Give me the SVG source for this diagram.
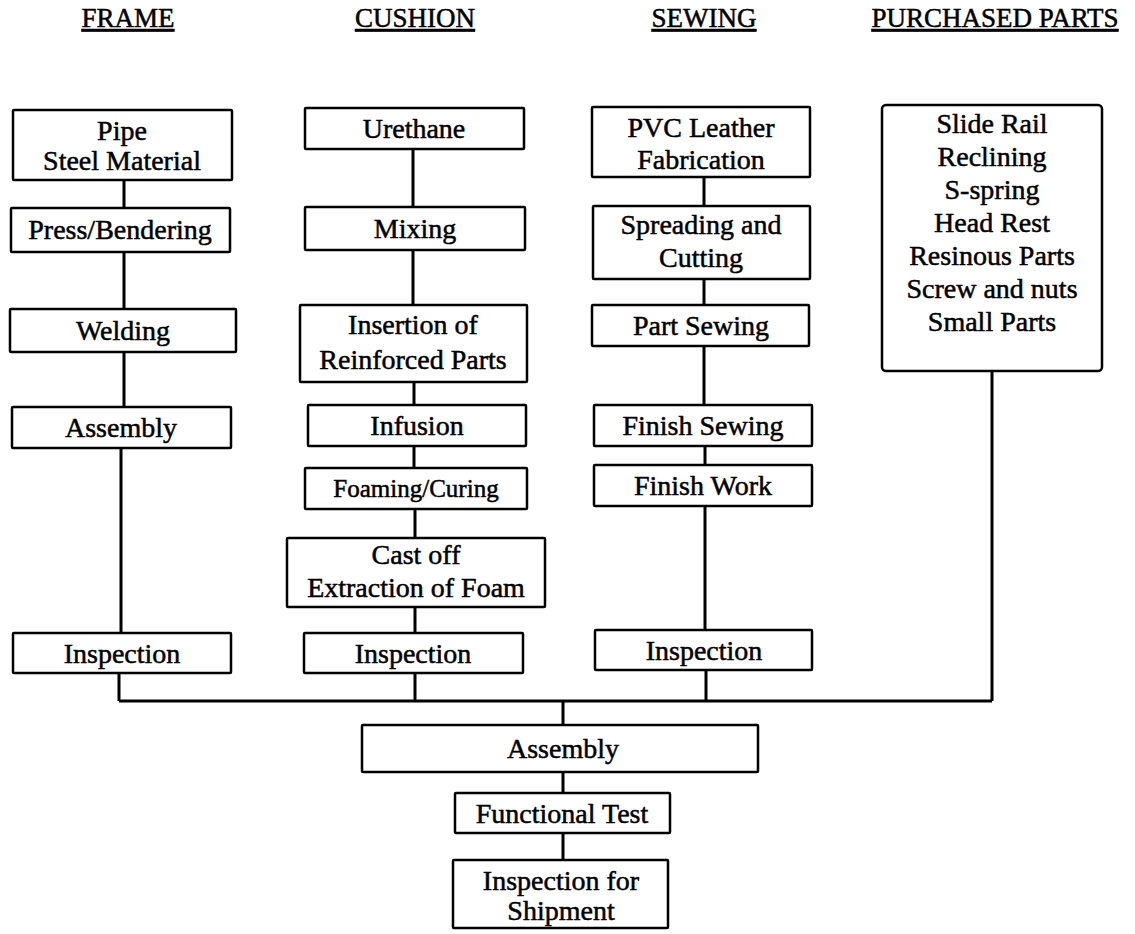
<svg xmlns="http://www.w3.org/2000/svg" width="1135" height="934" viewBox="0 0 1135 934">
<style>
text{font-family:"Liberation Serif","Times New Roman",serif;fill:#000;stroke:#000;stroke-width:0.5;text-anchor:middle;font-size:28px}
.h{font-size:27px;text-decoration:underline}
.b{fill:#fff;stroke:#000;stroke-width:2.5}
.c{stroke:#000;stroke-width:3;fill:none}
.sm{font-size:25px}
</style>
<rect width="1135" height="934" fill="#fff"/>
<g id="headers">
<text class="h" x="128" y="27">FRAME</text>
<text class="h" x="415" y="27">CUSHION</text>
<text class="h" x="704" y="27">SEWING</text>
<text class="h" x="995" y="27">PURCHASED PARTS</text>
</g>
<g id="connectors">
<path class="c" d="M124 180V208M124 252V309M124 352V407M121 448V633M119 673V701"/>
<path class="c" d="M413 149V207M413 250V305M414 382V405M414 446V468M415 509V538M415 607V633M415 673V701"/>
<path class="c" d="M704 177V206M704 279V305M704 346V405M705 446V465M705 506V630M706 670V701"/>
<path class="c" d="M992 371V701"/>
<path class="c" d="M119 701H992"/>
<path class="c" d="M563 701V725M563 772V793M563 833V860"/>
</g>
<g id="pipe"><rect class="b" x="13" y="110" width="219" height="70" rx="1"/><text x="122" y="140">Pipe</text><text x="122" y="170">Steel Material</text></g>
<g id="press"><rect class="b" x="11" y="208" width="219" height="44" rx="1"/><text x="120" y="239">Press/Bendering</text></g>
<g id="welding"><rect class="b" x="10" y="309" width="226" height="43" rx="1"/><text x="123" y="340">Welding</text></g>
<g id="assembly-frame"><rect class="b" x="12" y="407" width="219" height="41" rx="1"/><text x="121" y="437">Assembly</text></g>
<g id="inspection-frame"><rect class="b" x="13" y="633" width="218" height="40" rx="1"/><text x="122" y="663">Inspection</text></g>
<g id="urethane"><rect class="b" x="305" y="108" width="219" height="41" rx="1"/><text x="414" y="138">Urethane</text></g>
<g id="mixing"><rect class="b" x="305" y="207" width="220" height="43" rx="1"/><text x="415" y="238">Mixing</text></g>
<g id="insertion"><rect class="b" x="300" y="305" width="227" height="77" rx="1"/><text x="413" y="334">Insertion of</text><text x="413" y="369">Reinforced Parts</text></g>
<g id="infusion"><rect class="b" x="308" y="405" width="218" height="41" rx="1"/><text x="417" y="435">Infusion</text></g>
<g id="foaming"><rect class="b" x="305" y="468" width="222" height="41" rx="1"/><text class="sm" x="416" y="497">Foaming/Curing</text></g>
<g id="castoff"><rect class="b" x="287" y="538" width="258" height="69" rx="1"/><text x="416" y="564">Cast off</text><text x="416" y="597">Extraction of Foam</text></g>
<g id="inspection-cushion"><rect class="b" x="304" y="633" width="219" height="40" rx="1"/><text x="413" y="663">Inspection</text></g>
<g id="pvc"><rect class="b" x="592" y="107" width="218" height="70" rx="1"/><text x="701" y="137">PVC Leather</text><text x="701" y="169">Fabrication</text></g>
<g id="spreading"><rect class="b" x="593" y="206" width="217" height="73" rx="1"/><text x="701" y="234">Spreading and</text><text x="701" y="267">Cutting</text></g>
<g id="partsewing"><rect class="b" x="592" y="305" width="217" height="41" rx="1"/><text x="701" y="335">Part Sewing</text></g>
<g id="finishsewing"><rect class="b" x="594" y="405" width="218" height="41" rx="1"/><text x="703" y="435">Finish Sewing</text></g>
<g id="finishwork"><rect class="b" x="594" y="465" width="218" height="41" rx="1"/><text x="703" y="495">Finish Work</text></g>
<g id="inspection-sewing"><rect class="b" x="595" y="630" width="217" height="40" rx="1"/><text x="704" y="660">Inspection</text></g>
<g id="purchased"><rect class="b" x="882" y="105" width="220" height="266" rx="4"/>
<text x="992" y="133">Slide Rail</text><text x="992" y="166">Reclining</text><text x="992" y="199">S-spring</text><text x="992" y="232">Head Rest</text><text x="992" y="265">Resinous Parts</text><text x="992" y="298">Screw and nuts</text><text x="992" y="331">Small Parts</text></g>
<g id="assembly-final"><rect class="b" x="362" y="725" width="396" height="47" rx="1"/><text x="563" y="758">Assembly</text></g>
<g id="functional"><rect class="b" x="455" y="793" width="215" height="40" rx="1"/><text x="562" y="823">Functional Test</text></g>
<g id="shipment"><rect class="b" x="453" y="860" width="215" height="68" rx="1"/><text x="561" y="890">Inspection for</text><text x="561" y="920">Shipment</text></g>
</svg>
